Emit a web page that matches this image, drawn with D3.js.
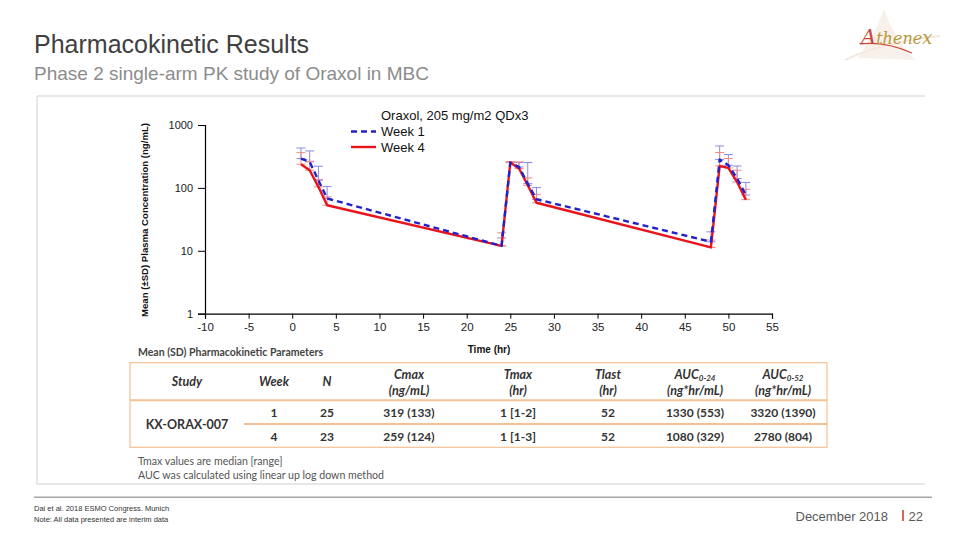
<!DOCTYPE html>
<html><head><meta charset="utf-8">
<script src="https://cdn.jsdelivr.net/npm/d3@7"></script>
<style>
html,body{margin:0;padding:0;background:#fff;}
svg{display:block;}
</style></head>
<body>
<svg id="c" width="960" height="540"></svg>
<script>
// ---------- data ----------
const times = [1, 2, 3, 4, 24, 25, 26, 27, 28, 48, 49, 50, 51, 52];
const week1Mean  = [293, 259, 132, 68, 12, 253, 215, 117, 66, 13.9, 282, 229, 141, 77];
const week1Upper = [431, 387, 221, 105, 16, 262, 253, 253, 101, 20, 464, 339, 223, 122];
const week4Mean  = [238, 191, 104, 53, 12, 253, 203, 110, 58, 11.3, 223, 208, 124, 65];
const week4Upper = [364, 265, 137, 72, 19.3, 262, 259, 144, 79, 14.8, 365, 293, 191, 95];
const seriesNames = ["Week 1", "Week 4"];
const xTicks = [-10, -5, 0, 5, 10, 15, 20, 25, 30, 35, 40, 45, 50, 55];
const yTicks = [1, 10, 100, 1000];

const tableHeads = [["Study"], ["Week"], ["N"], ["Cmax", "(ng/mL)"], ["Tmax", "(hr)"], ["Tlast", "(hr)"], ["AUC|0-24", "(ng*hr/mL)"], ["AUC|0-52", "(ng*hr/mL)"]];
const studyName = "KX-ORAX-007";
const weeks = ["1", "4"];
const nValues = ["25", "23"];
const cmaxValues = ["319 (133)", "259 (124)"];
const tmaxValues = ["1 [1-2]", "1 [1-3]"];
const tlastValues = ["52", "52"];
const auc24Values = ["1330 (553)", "1080 (329)"];
const auc52Values = ["3320 (1390)", "2780 (804)"];

// ---------- drawing ----------
const svg = d3.select("#c");
const SANS = "'Liberation Sans', Arial, Helvetica, sans-serif";
const TBL = "Lato, 'Open Sans', sans-serif";

// Title
svg.append("text").attr("x", 34).attr("y", 53).attr("font-family", SANS).attr("font-size", 25)
  .attr("fill", "#404040").text("Pharmacokinetic Results");
svg.append("text").attr("x", 34).attr("y", 80).attr("font-family", SANS).attr("font-size", 19)
  .attr("fill", "#8c8c8c").text("Phase 2 single-arm PK study of Oraxol in MBC");

// Logo
const logo = svg.append("g");
logo.append("path").attr("d", "M858,58 C870,40 880,22 884,8 C888,24 900,44 915,60 Z").attr("fill", "#f6ede6").attr("opacity", 0.8);
logo.append("path").attr("d", "M845,60 C870,48 900,40 940,36").attr("stroke", "#f3e8e0").attr("stroke-width", 2).attr("fill", "none");
logo.append("path").attr("d", "M860,44 C878,42 896,46 912,53").attr("stroke", "#cc4a3c").attr("stroke-width", 1.2).attr("fill", "none");
const lt = logo.append("text").attr("x", 861).attr("y", 44).attr("font-family", "'DejaVu Serif', 'Liberation Serif', serif")
  .attr("font-style", "italic").attr("font-size", 16);
lt.append("tspan").attr("fill", "#c9473a").attr("font-size", 21).text("A");
lt.append("tspan").attr("fill", "#b8983a").text("thene");
lt.append("tspan").attr("fill", "#b8983a").attr("font-size", 18).text("x");

// Frame
svg.append("path").attr("d", "M37,484 V96 H925").attr("fill", "none").attr("stroke", "#d0d0d0").attr("stroke-width", 1);
svg.append("line").attr("x1", 37).attr("x2", 925).attr("y1", 484).attr("y2", 484).attr("stroke", "#d0d0d0");

// Chart
const x = d3.scaleLinear().domain([-10, 55]).range([205, 772]);
const y = d3.scaleLog().domain([1, 1000]).range([313.7, 125]);
const hyphenFmt = d => String(d);

const gx = svg.append("g").attr("transform", "translate(0,313.7)");
gx.call(d3.axisBottom(x).tickValues(d3.range(-10, 55.1, 2.5)).tickSize(5).tickFormat(""));
gx.call(d3.axisBottom(x).tickValues(xTicks).tickSize(5).tickFormat(hyphenFmt));
gx.selectAll("path.domain").attr("stroke", "#000").attr("stroke-width", 1.2);
gx.selectAll("text").attr("font-family", SANS).attr("font-size", 11.5).attr("fill", "#222").attr("dy", "0.85em");

const minorY = [];
[1, 10, 100].forEach(d => { for (let k = 2; k <= 9; k++) minorY.push(d * k); });
const gy = svg.append("g").attr("transform", "translate(205,0)");
gy.call(d3.axisLeft(y).tickValues(minorY).tickSize(4).tickFormat(""));
gy.call(d3.axisLeft(y).tickValues(yTicks).tickSize(7).tickFormat(hyphenFmt));
gy.selectAll("path.domain").attr("stroke", "#000").attr("stroke-width", 1.2);
gy.selectAll("text").attr("font-family", SANS).attr("font-size", 11).attr("fill", "#222").attr("x", -12);

svg.append("text").attr("transform", "translate(148,220) rotate(-90)").attr("text-anchor", "middle")
  .attr("font-family", SANS).attr("font-weight", "bold").attr("font-size", 9.6).attr("fill", "#111")
  .text("Mean (±SD) Plasma Concentration (ng/mL)");
svg.append("text").attr("x", 489).attr("y", 353).attr("text-anchor", "middle")
  .attr("font-family", SANS).attr("font-weight", "bold").attr("font-size", 10).attr("fill", "#111").text("Time (hr)");

const series = [
  {name: seriesNames[0], mean: week1Mean, upper: week1Upper, color: "#2222c8", err: "#8a8ae6", dash: "6,4"},
  {name: seriesNames[1], mean: week4Mean, upper: week4Upper, color: "#e8141c", err: "#f08a8a", dash: null}
];

series.forEach(s => {
  const g = svg.append("g");
  times.forEach((t, i) => {
    const cx = x(t), y0 = y(s.mean[i]), y1 = y(s.upper[i]);
    g.append("line").attr("x1", cx).attr("x2", cx).attr("y1", y0).attr("y2", y1).attr("stroke", s.err).attr("stroke-width", 1);
    g.append("line").attr("x1", cx - 4.5).attr("x2", cx + 4.5).attr("y1", y1).attr("y2", y1).attr("stroke", s.err).attr("stroke-width", 1);
    g.append("line").attr("x1", cx - 4.5).attr("x2", cx + 4.5).attr("y1", y0).attr("y2", y0).attr("stroke", s.err).attr("stroke-width", 1);
  });
});
series.slice().reverse().forEach(s => {
  const line = d3.line().x((d, i) => x(times[i])).y(d => y(d));
  svg.append("path").datum(s.mean).attr("d", line).attr("fill", "none").attr("stroke", s.color)
    .attr("stroke-width", 2.4).attr("stroke-dasharray", s.dash).attr("stroke-linejoin", "round");
});

// Legend
svg.append("text").attr("x", 381).attr("y", 120).attr("font-family", SANS).attr("font-size", 13).attr("fill", "#111")
  .text("Oraxol, 205 mg/m2 QDx3");
series.forEach((s, i) => {
  const ly = 131.5 + i * 15.5;
  svg.append("line").attr("x1", 351).attr("x2", 376).attr("y1", ly).attr("y2", ly).attr("stroke", s.color)
    .attr("stroke-width", 2.4).attr("stroke-dasharray", s.dash);
  svg.append("text").attr("x", 381).attr("y", ly + 4.5).attr("font-family", SANS).attr("font-size", 13).attr("fill", "#111").text(s.name);
});

// Table
svg.append("text").attr("x", 138).attr("y", 356).attr("font-family", TBL).attr("font-weight", 700).attr("font-size", 10.5)
  .attr("fill", "#444").text("Mean (SD) Pharmacokinetic Parameters");

const colX = [187, 274, 327, 409, 518, 608, 695, 783];
const tL = 130, tR = 827, tTop = 362.7, tHead = 400.3, tMid = 424, tBot = 447.3;
const orange = "#f5c193";
svg.append("rect").attr("x", tL).attr("y", tTop).attr("width", tR - tL).attr("height", tBot - tTop)
  .attr("fill", "none").attr("stroke", orange).attr("stroke-width", 1.2);
svg.append("line").attr("x1", tL).attr("x2", tR).attr("y1", tHead).attr("y2", tHead).attr("stroke", orange).attr("stroke-width", 2);
svg.append("line").attr("x1", 244).attr("x2", tR).attr("y1", tMid).attr("y2", tMid).attr("stroke", orange).attr("stroke-width", 2);

tableHeads.forEach((h, i) => {
  const ys = h.length === 1 ? [382] : [374.5, 391];
  h.forEach((ln, j) => {
    const t = svg.append("text").attr("x", colX[i]).attr("y", ys[j] + 4).attr("text-anchor", "middle")
      .attr("font-family", TBL).attr("font-style", "italic").attr("font-weight", 700).attr("font-size", 12.5).attr("fill", "#333");
    if (ln.includes("|")) {
      const [a, b] = ln.split("|");
      t.append("tspan").text(a);
      t.append("tspan").attr("font-size", 8).attr("dy", 2.5).text(b);
    } else t.text(ln);
  });
});

svg.append("text").attr("x", colX[0]).attr("y", 429).attr("text-anchor", "middle").attr("font-family", TBL)
  .attr("font-weight", 700).attr("font-size", 12.5).attr("fill", "#333").text(studyName);
const rowCols = [weeks, nValues, cmaxValues, tmaxValues, tlastValues, auc24Values, auc52Values];
const rowY = [412.7, 436.7];
rowCols.forEach((col, ci) => {
  col.forEach((v, ri) => {
    svg.append("text").attr("x", colX[ci + 1]).attr("y", rowY[ri] + 4.2).attr("text-anchor", "middle")
      .attr("font-family", TBL).attr("font-weight", 700).attr("font-size", 12).attr("fill", "#333").text(v);
  });
});

svg.append("text").attr("x", 138).attr("y", 464.5).attr("font-family", TBL).attr("font-size", 10.6).attr("fill", "#555")
  .text("Tmax values are median [range]");
svg.append("text").attr("x", 138).attr("y", 479).attr("font-family", TBL).attr("font-size", 10.6).attr("fill", "#555")
  .text("AUC was calculated using linear up log down method");

// Footer
svg.append("line").attr("x1", 34).attr("x2", 932).attr("y1", 497.3).attr("y2", 497.3).attr("stroke", "#a6a6a6").attr("stroke-width", 1.5);
svg.append("text").attr("x", 34).attr("y", 511).attr("font-family", SANS).attr("font-size", 7.5).attr("fill", "#333")
  .text("Dai et al. 2018 ESMO Congress. Munich");
svg.append("text").attr("x", 34).attr("y", 522).attr("font-family", SANS).attr("font-size", 7.5).attr("fill", "#333")
  .text("Note: All data presented are interim data");
svg.append("text").attr("x", 888).attr("y", 521).attr("text-anchor", "end").attr("font-family", SANS).attr("font-size", 13)
  .attr("fill", "#595959").text("December 2018");
svg.append("line").attr("x1", 903).attr("x2", 903).attr("y1", 510).attr("y2", 521).attr("stroke", "#c0392b").attr("stroke-width", 1.5);
svg.append("text").attr("x", 923).attr("y", 521).attr("text-anchor", "end").attr("font-family", SANS).attr("font-size", 13)
  .attr("fill", "#595959").text("22");
</script>
</body></html>
